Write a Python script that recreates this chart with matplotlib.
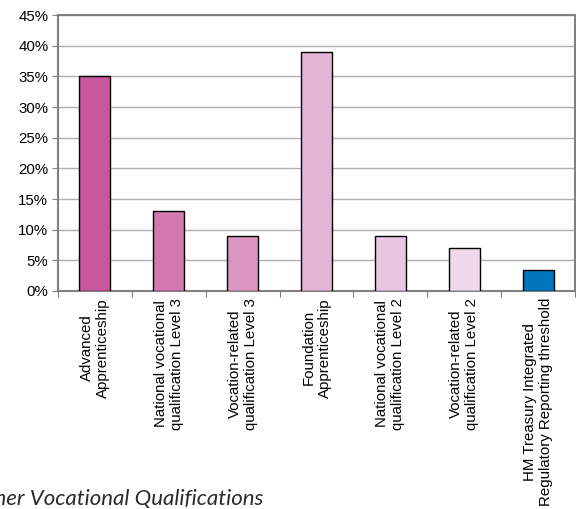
import matplotlib
matplotlib.use("Agg")
import matplotlib.pyplot as plt
import numpy as np
from matplotlib.ticker import MultipleLocator, FuncFormatter

# Share of starts by qualification type
categories = [
    "Advanced\nApprenticeship",
    "National vocational\nqualification Level 3",
    "Vocation-related\nqualification Level 3",
    "Foundation\nApprenticeship",
    "National vocational\nqualification Level 2",
    "Vocation-related\nqualification Level 2",
    "HM Treasury Integrated\nRegulatory Reporting threshold",
]
values = [35, 13, 9, 39, 9, 7, 3.5]
colors = ["#C8579D", "#D378B0", "#DA96C1", "#E2B4D5", "#E9C6DF", "#F0D8EB", "#0076BF"]

plt.rcParams["font.family"] = ["Liberation Sans", "DejaVu Sans"]

fig = plt.figure(figsize=(5.76, 5.09), dpi=100)
ax = fig.add_axes([0.1007, 0.4283, 0.8976, 0.5422])

x = np.arange(len(categories))
ax.bar(x, values, width=0.42, color=colors, edgecolor="black", linewidth=1.0, zorder=3)

ax.set_xlim(-0.5, len(categories) - 0.5)
ax.set_ylim(0, 45)
ax.yaxis.set_major_locator(MultipleLocator(5))
ax.yaxis.set_major_formatter(FuncFormatter(lambda v, p: f"{v:.0f}%"))
ax.grid(axis="y", color="#b0b0b0", linewidth=1.0, zorder=0)

# category boundaries carry the ticks, labels sit under each bar
ax.set_xticks(np.arange(-0.5, len(categories)), minor=False)
ax.set_xticklabels([])
ax.set_xticks(x, minor=True)
ax.set_xticklabels(categories, minor=True, rotation=90, fontsize=10.8,
                   ha="center", va="top", multialignment="center",
                   linespacing=1.2)
ax.tick_params(axis="x", which="major", length=4, color="#808080", direction="out")
ax.tick_params(axis="x", which="minor", length=0, pad=5)
ax.tick_params(axis="y", length=4, color="#808080", labelsize=10.8, pad=3)

for s in ax.spines.values():
    s.set_color("#808080")
    s.set_linewidth(1.5)

fig.text(263 / 576, 0.008, "Other Vocational Qualifications", fontsize=16,
         style="italic", family=["Lato", "DejaVu Sans"], color="#2b2b2b",
         ha="right", va="baseline")

fig.savefig("out.png", dpi=100)
